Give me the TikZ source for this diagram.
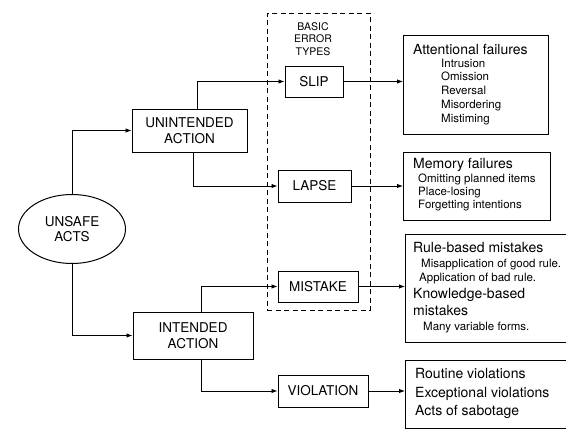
\documentclass[tikz,border=0pt]{standalone}
\usepackage{fontspec}
\setmainfont{TeX Gyre Heros}
\usetikzlibrary{shapes.geometric,arrows.meta}
\tikzset{
  box/.style={draw, line width=1pt, rectangle, inner sep=0pt, align=center,
    font=\fontsize{13.5}{15.5}\selectfont},
  rbox/.style={draw, line width=1pt, rectangle, inner sep=0pt, anchor=north west},
  dashbox/.style={draw, line width=0.7pt, dash pattern=on 5pt off 3.5pt, rectangle, inner sep=0pt, anchor=north west},
  head/.style={font=\fontsize{14}{16}\selectfont, anchor=base west, inner sep=0pt},
  subitem/.style={font=\fontsize{11.5}{13}\selectfont, anchor=base west, inner sep=0pt},
  arr/.style={line width=0.9pt, -{Latex[length=6pt,width=4.5pt]}},
}
\begin{document}
\begin{tikzpicture}[x=1pt,y=-1pt]
\useasboundingbox (0,0) rectangle (566,431);
% dashed group
\node[dashbox, minimum width=103pt, minimum height=297pt] (basic) at (267,13) {};
\node[font=\fontsize{10.5}{12.5}\selectfont, align=center, anchor=north, inner sep=0pt] (basicT) at (313,22) {BASIC\\ERROR\\TYPES};
% left part
\node[draw, line width=1pt, ellipse, minimum width=107pt, minimum height=69pt, inner sep=0pt, align=center, font=\fontsize{13.5}{15.5}\selectfont] (unsafe) at (72,229) {UNSAFE\\ACTS};
\node[box, minimum width=115pt, minimum height=43pt] (unint) at (189.5,130.5) {UNINTENDED\\ACTION};
\node[box, minimum width=120pt, minimum height=47pt] (intended) at (193,335.5) {INTENDED\\ACTION};
% error types
\node[box, minimum width=58pt, minimum height=31pt] (slip) at (314,81.5) {SLIP};
\node[box, minimum width=73pt, minimum height=32pt] (lapse) at (314.5,186) {LAPSE};
\node[box, minimum width=80pt, minimum height=31pt] (mistake) at (318,286.5) {MISTAKE};
\node[box, minimum width=90pt, minimum height=32pt] (violation) at (323,391) {VIOLATION};
% right boxes
\node[rbox, minimum width=145pt, minimum height=99pt] (attn) at (403,35) {};
\node[rbox, minimum width=147pt, minimum height=68pt] (memory) at (403,152) {};
\node[rbox, minimum width=170pt, minimum height=108pt] (rule) at (405,234) {};
\node[rbox, minimum width=170pt, minimum height=68pt] (routine) at (405,360) {};
% right box texts
\node[head] (a0) at (413,54) {Attentional failures};
\node[subitem] (a1) at (441,67) {Intrusion};
\node[subitem] (a2) at (441,81) {Omission};
\node[subitem] (a3) at (441,94) {Reversal};
\node[subitem] (a4) at (441,108) {Misordering};
\node[subitem] (a5) at (441,122) {Mistiming};
\node[head] (m0) at (413,168) {Memory failures};
\node[subitem] (m1) at (418,182) {Omitting planned items};
\node[subitem] (m2) at (418,195) {Place-losing};
\node[subitem] (m3) at (418,208) {Forgetting intentions};
\node[head] (r0) at (413,252) {Rule-based mistakes};
\node[subitem] (r1) at (421,267) {Misapplication of good rule.};
\node[subitem] (r2) at (419,281) {Application of bad rule.};
\node[head] (r3) at (413,298) {Knowledge-based};
\node[head] (r4) at (413,315) {mistakes};
\node[subitem] (r5) at (423,330) {Many variable forms.};
\node[head] (v1) at (415,378) {Routine violations};
\node[head] (v2) at (415,397) {Exceptional violations};
\node[head] (v3) at (415,415) {Acts of sabotage};
% connectors
\draw[arr] (unsafe.north) |- (unint.west);
\draw[arr] (unsafe.south) |- (intended.west);
\draw[arr] ([xshift=7.5pt]unint.north) |- (slip.west);
\draw[arr] ([xshift=3.5pt]unint.south) |- (lapse.west);
\draw[arr] ([xshift=8pt]intended.north) |- (mistake.west);
\draw[arr] ([xshift=8pt]intended.south) |- (violation.west);
\draw[arr] (slip.east) -- (slip.east -| attn.west);
\draw[arr] (lapse.east) -- (lapse.east -| memory.west);
\draw[arr] (mistake.east) -- (mistake.east -| rule.west);
\draw[arr] (violation.east) -- (violation.east -| routine.west);
\end{tikzpicture}
\end{document}
